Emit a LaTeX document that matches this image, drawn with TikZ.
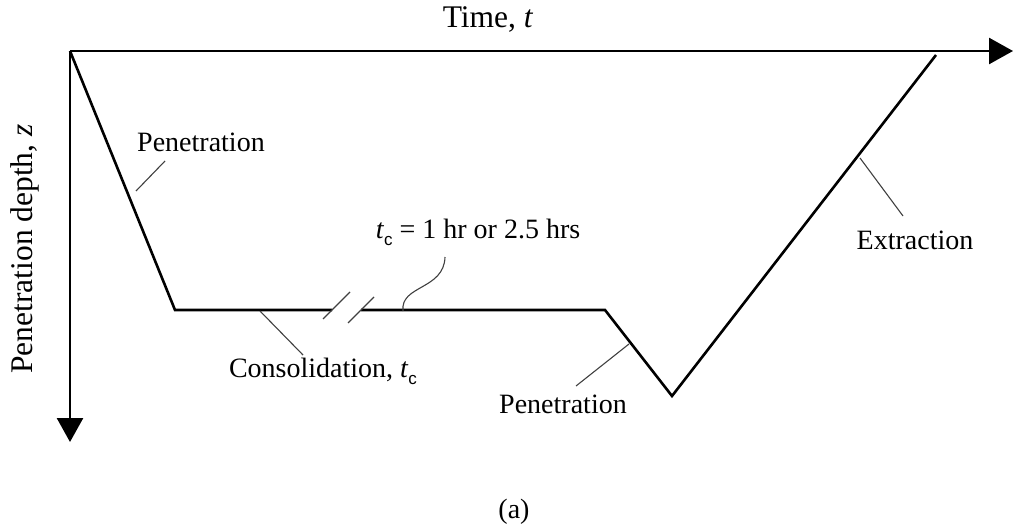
\documentclass[tikz,border=0pt]{standalone}
\usepackage{fontspec}
\setmainfont{Liberation Serif}
\newfontfamily\subsans{Liberation Sans}
\usetikzlibrary{arrows.meta}
\begin{document}
\begin{tikzpicture}[x=1pt,y=-1pt,
  axisline/.style={line width=2.6pt,-{Triangle[length=24pt,width=26pt]}},
  curveline/.style={line width=2.6pt},
  leader/.style={line width=1.1pt,black!75},
  lbl/.style={font=\fontsize{28}{32}\selectfont,inner sep=0pt},
  axlbl/.style={font=\fontsize{31.5}{36}\selectfont,inner sep=0pt}]
\useasboundingbox (0,0) rectangle (1014,532);
% coordinates
\coordinate (O) at (70,51);
\coordinate (tEnd) at (1013,51);
\coordinate (zEnd) at (70,442);
\coordinate (A) at (175,310);
\coordinate (B1) at (332,310);
\coordinate (B2) at (361,310);
\coordinate (C) at (605,310);
\coordinate (D) at (672,396);
\coordinate (E) at (936,55);
% axes
\draw[axisline] (O) -- (tEnd);
\draw[axisline] (O) -- (zEnd);
% curve
\draw[curveline] (O) -- (A) -- (B1);
\draw[curveline] (B2) -- (C) -- (D) -- (E);
% break marks
\coordinate (s1a) at (323,319); \coordinate (s1b) at (350,292);
\coordinate (s2a) at (348,323); \coordinate (s2b) at (374,297);
\draw[leader] (s1a) -- (s1b);
\draw[leader] (s2a) -- (s2b);
% labels
\node[axlbl] (tlab) at (488,19) {Time, \textit{t}};
\node[axlbl,rotate=90] (zlab) at (25,249) {Penetration depth, \textit{z}};
\node[lbl] (pen1) at (201,142) {Penetration};
\node[lbl] (cons) at (323,371) {Consolidation, \textit{t}\raisebox{-0.25em}{\subsans\fontsize{17}{20}\selectfont c}};
\node[lbl] (pen2) at (563,404) {Penetration};
\node[lbl] (extr) at (915,240) {Extraction};
\node[lbl] (tc) at (478,232) {\textit{t}\raisebox{-0.25em}{\subsans\fontsize{17}{20}\selectfont c} = 1 hr or 2.5 hrs};
\node[lbl] (cap) at (514,512) {(a)};
% leaders
\coordinate (l1a) at (136,191); \coordinate (l1b) at (165,161);
\draw[leader] (l1a) -- (l1b);
\coordinate (l2a) at (260,311); \coordinate (l2b) at (303,355);
\draw[leader] (l2a) -- (l2b);
\coordinate (l3a) at (629,344); \coordinate (l3b) at (576,386);
\draw[leader] (l3a) -- (l3b);
\coordinate (l4a) at (860,158); \coordinate (l4b) at (903,216);
\draw[leader] (l4a) -- (l4b);
\coordinate (c1) at (403,311); \coordinate (c2) at (445,257);
\draw[leader] (c1) .. controls (400,285) and (444,290) .. (c2);
\end{tikzpicture}
\end{document}
